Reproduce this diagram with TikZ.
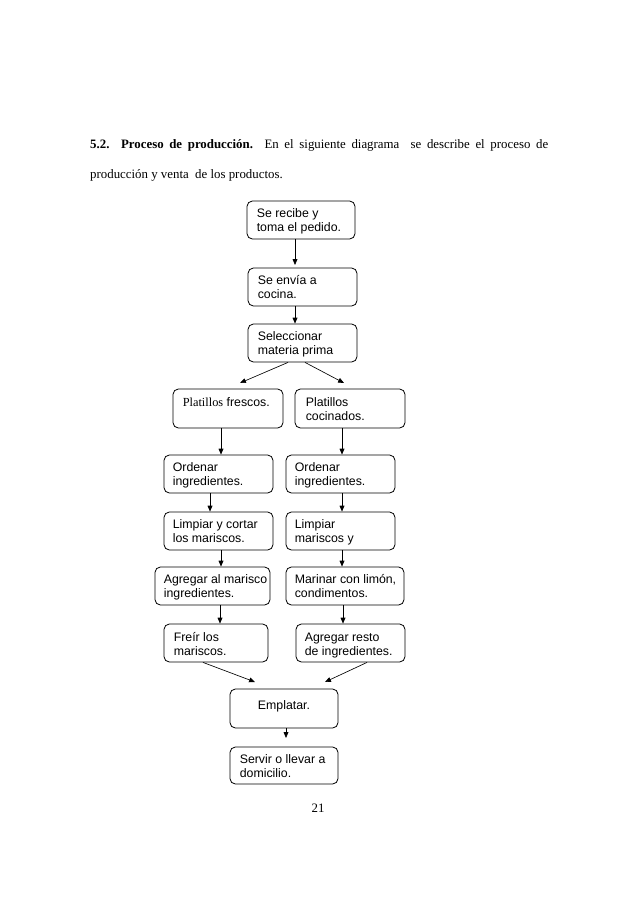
\documentclass[tikz,border=0pt]{standalone}
\usepackage{fontspec}
\setmainfont{Liberation Serif}
\setsansfont{Liberation Sans}
\usetikzlibrary{arrows.meta,fit}
\tikzset{
  box/.style={draw, line width=0.75pt, rounded corners=5pt, inner sep=0pt},
  txt/.style={inner sep=0pt, anchor=north west, align=left,
    font=\sffamily\fontsize{11.5}{13}\selectfont},
  arr/.style={line width=0.6pt, -{Triangle[length=5.5pt,width=4.5pt]}},
  ln/.style={line width=0.6pt}
}
\begin{document}
\begin{tikzpicture}[x=0.9330pt,y=-0.9330pt]
\useasboundingbox (0,0) rectangle (638,903);
% heading
\node[anchor=north west, inner sep=0pt, text width=427.3pt, align=justify,
  font=\fontsize{12}{28}\selectfont] (hdr) at (90,139)
  {\textbf{5.2. Proceso de producción.} En el siguiente diagrama\ \ se describe el proceso de\linebreak
   producción y venta\ \ de los productos.};
% boxes
\node[box, fit={(247,201) (355,239)}] (b1) {};
\node[box, fit={(248,268) (357,306)}] (b2) {};
\node[box, fit={(248,324) (357,362)}] (b3) {};
\node[box, fit={(173,389) (283,428)}] (b4) {};
\node[box, fit={(295,389) (405,428)}] (b5) {};
\node[box, fit={(164,455) (273,493)}] (b6) {};
\node[box, fit={(286,455) (395,493)}] (b7) {};
\node[box, fit={(164,512) (273,550)}] (b8) {};
\node[box, fit={(286,512) (395,550)}] (b9) {};
\node[box, fit={(155,567) (270,605)}] (b10) {};
\node[box, fit={(286,567) (404,605)}] (b11) {};
\node[box, fit={(164,624) (268,662)}] (b12) {};
\node[box, fit={(296,624) (405,662)}] (b13) {};
\node[box, fit={(230,689) (338,728)}] (b14) {};
\node[box, fit={(230,747) (338,784)}] (b15) {};
% texts
\node[txt] (t1) at ([shift={(10,8)}]b1.north west) {Se recibe y\\toma el pedido.};
\node[txt] (t2) at ([shift={(10,8)}]b2.north west) {Se envía a\\cocina.};
\node[txt] (t3) at ([shift={(10,8)}]b3.north west) {Seleccionar\\materia prima};
\node[txt] (t4) at ([shift={(10,9)}]b4.north west) {{\rmfamily Platillos} frescos.};
\node[txt] (t5) at ([shift={(11,9)}]b5.north west) {Platillos\\cocinados.};
\node[txt] (t6) at ([shift={(9,8)}]b6.north west) {Ordenar\\ingredientes.};
\node[txt] (t7) at ([shift={(9,8)}]b7.north west) {Ordenar\\ingredientes.};
\node[txt] (t8) at ([shift={(9,8)}]b8.north west) {Limpiar y cortar\\los mariscos.};
\node[txt] (t9) at ([shift={(9,8)}]b9.north west) {Limpiar\\mariscos y};
\node[txt] (t10) at ([shift={(9,8)}]b10.north west) {Agregar al marisco\\ingredientes.};
\node[txt] (t11) at ([shift={(9,8)}]b11.north west) {Marinar con limón,\\condimentos.};
\node[txt] (t12) at ([shift={(10,9)}]b12.north west) {Freír los\\mariscos.};
\node[txt] (t13) at ([shift={(9,9)}]b13.north west) {Agregar resto\\de ingredientes.};
\node[txt, anchor=north] (t14) at ([shift={(0,12)}]b14.north) {Emplatar.};
\node[txt] (t15) at ([shift={(10,8)}]b15.north west) {Servir o llevar a\\domicilio.};
% free arrow ends
\coordinate (e1) at (295,265);
\coordinate (e3) at (240,383);
\coordinate (e4) at (344,383);
\coordinate (e13) at (255,682);
\coordinate (e14) at (325,682);
\coordinate (e15) at (286,738);
% connectors
\draw[arr] (b1.south -| e1) -- (e1);
\draw[arr] (b2.south -| e1) -- (b3.north -| e1);
\draw[arr] (b3.south -| 288,0) -- (e3);
\draw[arr] (b3.south -| 305,0) -- (e4);
\draw[arr] (b4.south -| 221,0) -- (b6.north -| 221,0);
\draw[arr] (b5.south -| 342,0) -- (b7.north -| 342,0);
\draw[arr] (b6.south -| 210,0) -- (b8.north -| 210,0);
\draw[arr] (b7.south -| 342,0) -- (b9.north -| 342,0);
\draw[arr] (b8.south -| 221,0) -- (b10.north -| 221,0);
\draw[arr] (b9.south -| 342,0) -- (b11.north -| 342,0);
\draw[arr] (b10.south -| 220,0) -- (b12.north -| 220,0);
\draw[arr] (b11.south -| 343,0) -- (b13.north -| 343,0);
\draw[arr] (b12.south -| 203,0) -- (e13);
\draw[arr] (b13.south -| 367,0) -- (e14);
\draw[arr] (b14.south -| e15) -- (e15);
% page number
\node[anchor=base, inner sep=0pt, font=\fontsize{12}{14}\selectfont] (pg) at (318,812) {21};
\end{tikzpicture}
\end{document}
